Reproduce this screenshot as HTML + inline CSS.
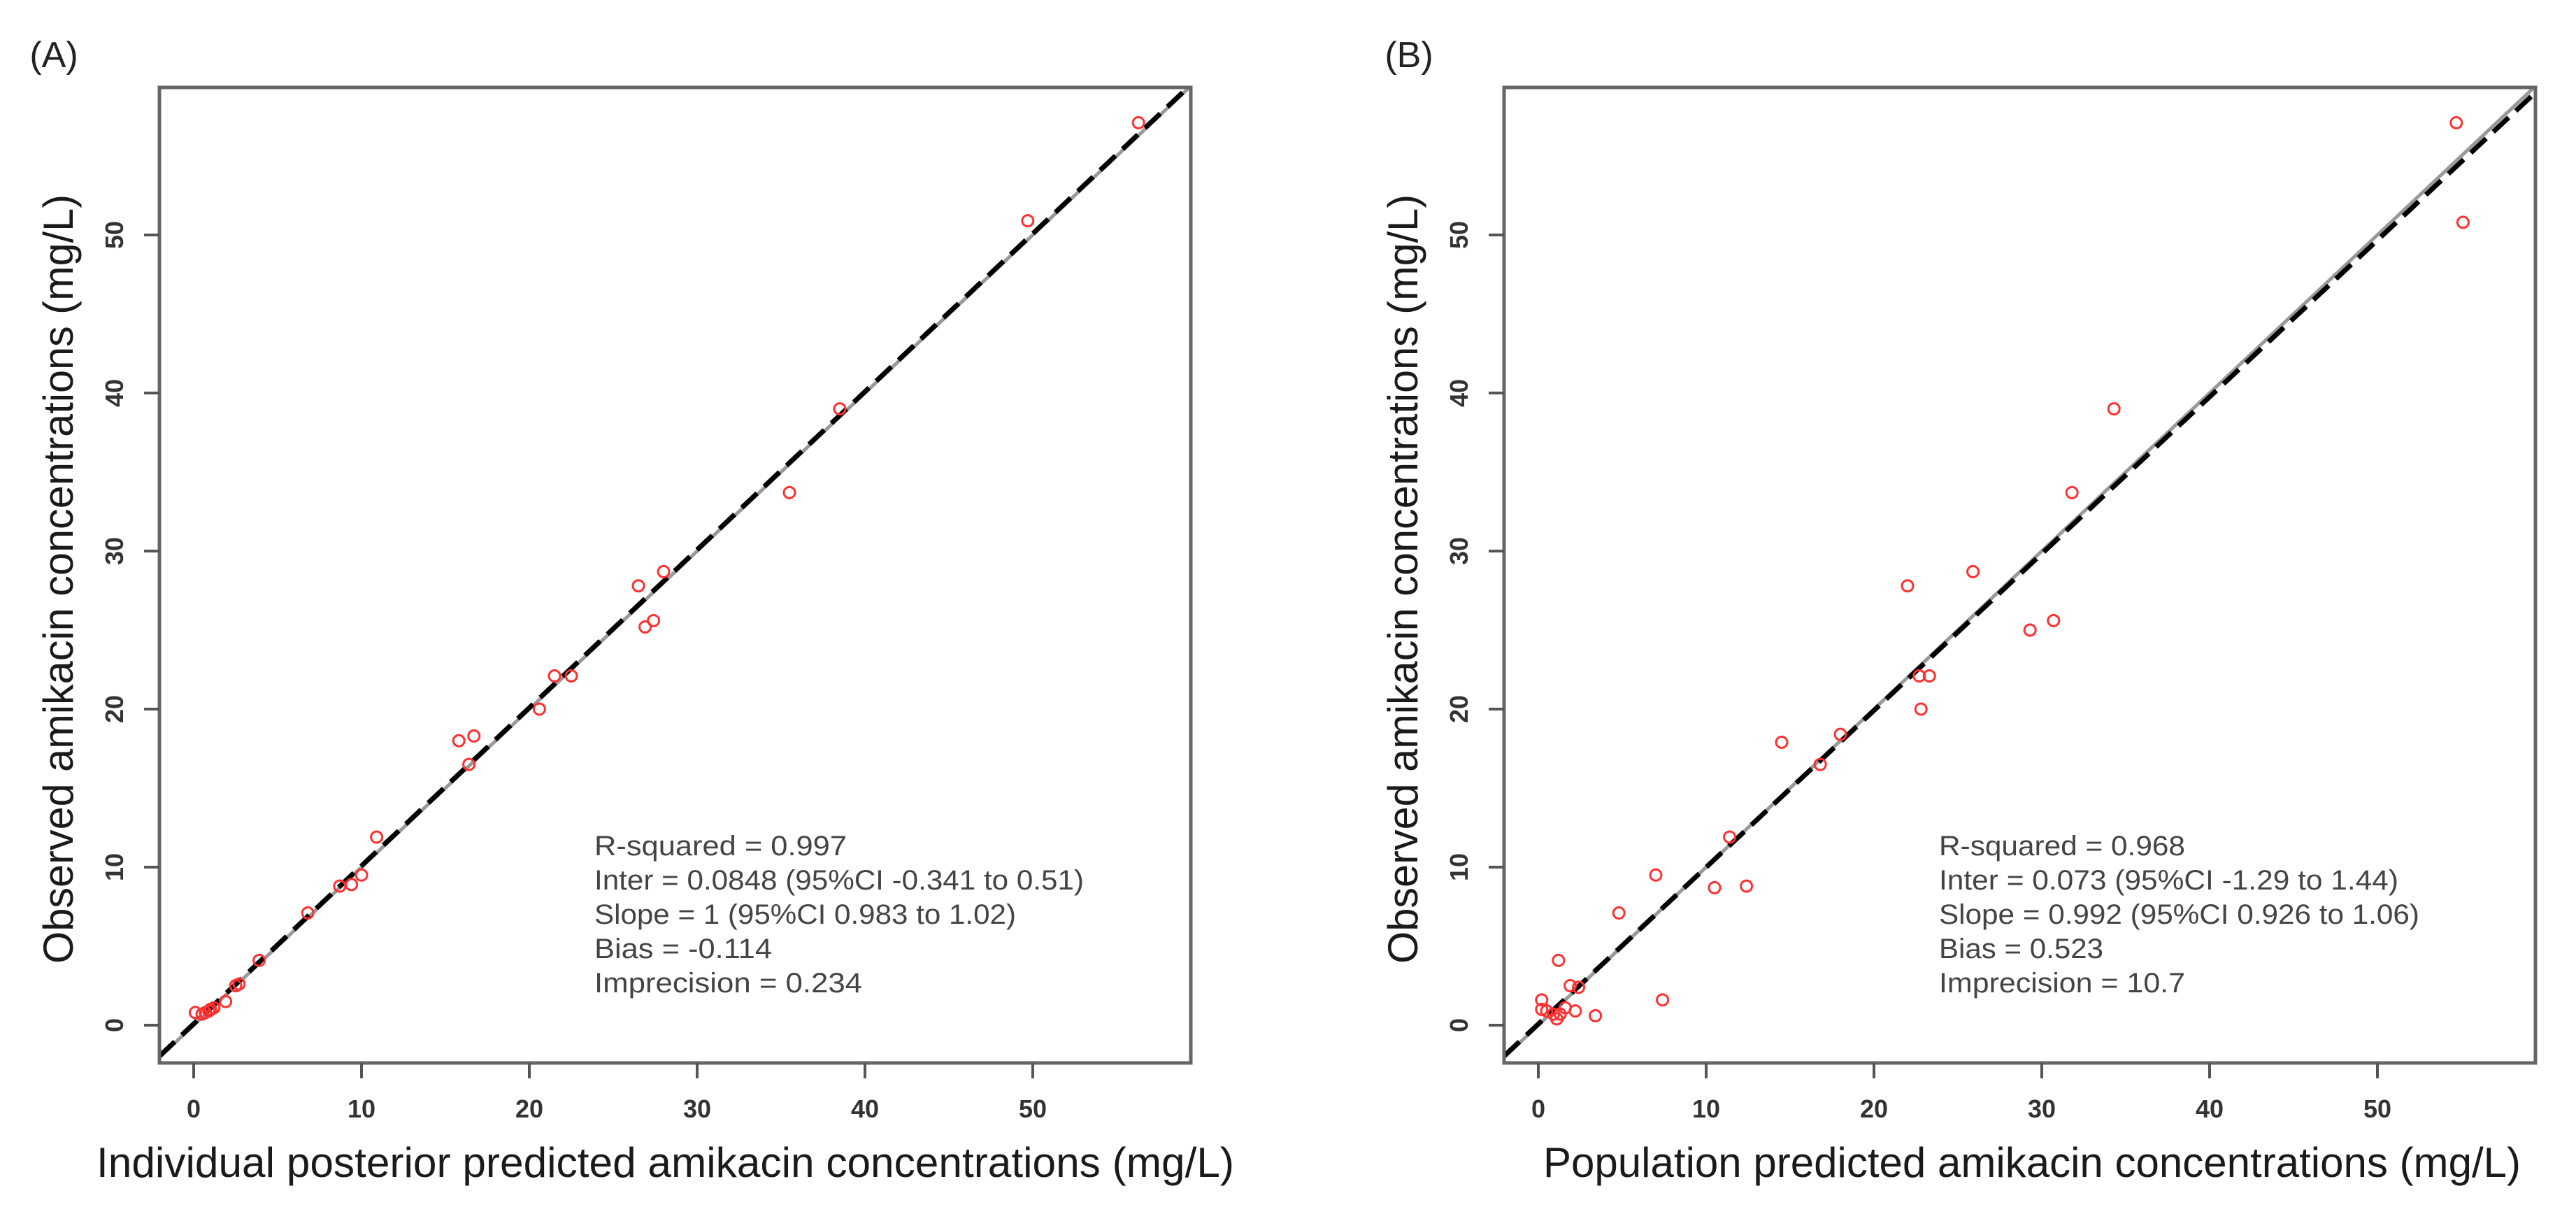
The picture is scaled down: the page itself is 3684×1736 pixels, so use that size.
<!DOCTYPE html>
<html><head><meta charset="utf-8"><style>
html,body{margin:0;padding:0;background:#fff;}
svg{display:block;font-family:"Liberation Sans",Arial,sans-serif;}
</style></head><body>
<svg id="fig" width="3684" height="1736" viewBox="0 0 3684 1736" xmlns="http://www.w3.org/2000/svg">
<rect width="3684" height="1736" fill="#fff"/>
</svg>
<script>
// Panel A data: individual posterior predicted vs observed
const predA = [0.1,0.5,0.7,0.9,1.0,1.2,1.9,2.5,2.7,3.9,6.8,8.7,9.4,10.0,10.9,15.8,16.7,16.4,20.6,21.5,22.5,26.5,26.9,27.4,28.0,35.5,38.5,49.7,56.3];
const obsA  = [0.8,0.7,0.8,0.9,1.0,1.1,1.5,2.5,2.6,4.1,7.1,8.8,8.9,9.5,11.9,18.0,18.3,16.5,20.0,22.1,22.1,27.8,25.2,25.6,28.7,33.7,39.0,50.9,57.1];
// Panel B data: population predicted vs observed
const predB = [0.2,0.2,0.5,0.9,1.1,1.3,1.2,1.9,2.4,2.2,1.6,3.4,4.8,7.0,7.4,10.5,11.4,12.4,14.5,16.8,18.0,22.0,22.8,22.7,23.3,25.9,29.3,30.7,31.8,34.3,54.7,55.1];
const obsB  = [1.6,1.0,0.9,0.7,0.4,0.7,4.1,2.5,2.4,0.9,1.1,0.6,7.1,9.5,1.6,8.7,11.9,8.8,17.9,16.5,18.4,27.8,20.0,22.1,22.1,28.7,25.0,25.6,33.7,39.0,57.1,50.8];
const ticks = [0,10,20,30,40,50];
const fitA = [0.0848, 1.0];
const fitB = [0.073, 0.992];
const statsA = ["R-squared = 0.997","Inter = 0.0848 (95%CI -0.341 to 0.51)","Slope = 1 (95%CI 0.983 to 1.02)","Bias = -0.114","Imprecision  = 0.234"];
const statsB = ["R-squared = 0.968","Inter = 0.073 (95%CI -1.29 to 1.44)","Slope = 0.992 (95%CI 0.926 to 1.06)","Bias = 0.523","Imprecision  = 10.7"];

const NS = "http://www.w3.org/2000/svg";
const svg = document.getElementById('fig');
function mk(tag, attrs, parent, text){
  const e = document.createElementNS(NS, tag);
  for (const k in attrs) e.setAttribute(k, attrs[k]);
  if (text !== undefined) e.textContent = text;
  (parent||svg).appendChild(e);
  return e;
}

function panel(off, label, pred, obs, fit, stats, xtitle, xtitleLen, key, widths, labX){
  const g = mk('g', {});
  
  
  const L = 228 + off, R = 1703 + off, T = 125, B = 1520;
  const x0 = 277 + off, xs = 24.0, y0 = 1466, ys = 22.6;
  const X = v => x0 + v * xs;
  const Y = v => y0 - v * ys;
  const xmin = (L - x0) / xs, xmax = (R - x0) / xs;

  const cid = 'clip' + key;
  const cp = mk('clipPath', {id: cid}, g);
  mk('rect', {x: L, y: T, width: R - L, height: B - T}, cp);

  const lab = mk('text', {x: labX, y: 96, 'font-size': 52, fill: '#222', 'text-anchor': 'middle'}, g, label);
  
  

  const lines = mk('g', {'clip-path': 'url(#' + cid + ')'}, g);
  const idl = mk('line', {x1: X(xmin), y1: Y(xmin), x2: X(xmax), y2: Y(xmax), stroke: '#999', 'stroke-width': 5}, lines);
  
  
  const rl = mk('line', {x1: X(xmin), y1: Y(fit[0] + fit[1]*xmin), x2: X(xmax), y2: Y(fit[0] + fit[1]*xmax), stroke: '#000', 'stroke-width': 7, 'stroke-dasharray': '30 14'}, lines);
  
  

  const pts = mk('g', {}, g);
  
  
  for (let i = 0; i < pred.length; i++){
    const c = mk('circle', {cx: X(pred[i]), cy: Y(obs[i]), r: 8, fill: 'none', stroke: '#ff3030', 'stroke-width': 3}, pts);
    
    
  }

  const box = mk('rect', {x: L, y: T, width: R - L, height: B - T, fill: 'none', stroke: '#666', 'stroke-width': 5}, g);
  
  

  for (const t of ticks){
    mk('line', {x1: X(t), y1: B, x2: X(t), y2: B + 22, stroke: '#555', 'stroke-width': 4}, g);
    const tx = mk('text', {x: X(t), y: 1598, 'font-size': 36, 'font-weight': 'bold', fill: '#333', 'text-anchor': 'middle'}, g, String(t));
    
    
    mk('line', {x1: L - 22, y1: Y(t), x2: L, y2: Y(t), stroke: '#555', 'stroke-width': 4}, g);
    const ty = mk('text', {x: 0, y: 0, 'font-size': 36, 'font-weight': 'bold', fill: '#333', 'text-anchor': 'middle', transform: 'translate(' + (L - 52) + ',' + Y(t) + ') rotate(-90)'}, g, String(t));
    
    
  }

  const xt = mk('text', {x: xtitleLen[0], y: 1683, 'font-size': 60, fill: '#1a1a1a', textLength: xtitleLen[1], lengthAdjust: 'spacingAndGlyphs'}, g, xtitle);
  
  
  const yt = mk('text', {x: 0, y: 0, 'font-size': 60, fill: '#1a1a1a', 'text-anchor': 'middle', textLength: 1100, lengthAdjust: 'spacingAndGlyphs', transform: 'translate(' + (104 + off) + ',828) rotate(-90)'}, g, 'Observed amikacin concentrations (mg/L)');
  
  

  const ann = mk('g', {}, g);
  
  
  for (let i = 0; i < stats.length; i++){
    mk('text', {x: 850 + off, y: 1223 + i * 49, 'font-size': 40, fill: '#444', textLength: widths[i], lengthAdjust: 'spacingAndGlyphs'}, ann, stats[i]);
  }
}

panel(0, '(A)', predA, obsA, fitA, statsA, 'Individual posterior predicted amikacin concentrations (mg/L)', [138, 1627], 'a', [361, 700, 603, 254, 383], 77);
panel(1923, '(B)', predB, obsB, fitB, statsB, 'Population predicted amikacin concentrations (mg/L)', [2207, 1398], 'b', [352, 657, 687, 235, 352], 2015);
</script>
</body></html>
